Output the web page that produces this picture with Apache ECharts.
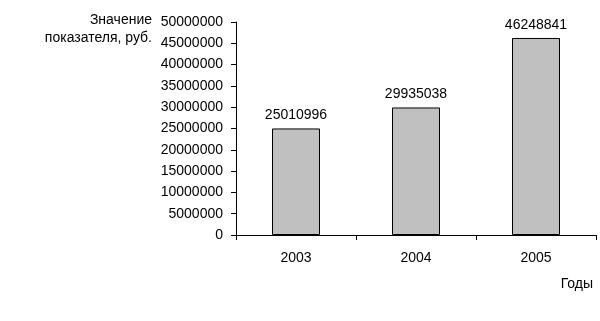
<!DOCTYPE html>
<html>
<head>
<meta charset="utf-8">
<script src="https://cdn.jsdelivr.net/npm/echarts@6/dist/echarts.min.js"></script>
<style>
  html, body { margin: 0; padding: 0; background: #fff; }
  #chart { width: 600px; height: 321px; }
</style>
</head>
<body>
<div id="chart"></div>
<script>
var years = ['2003', '2004', '2005'];
var values = [25010996, 29935038, 46248841];

var myChart = echarts.init(document.getElementById('chart'));

var font = 'Arial, "Liberation Sans", sans-serif';

var option = {
    animation: false,
    grid: { left: 236, right: 4, top: 22, bottom: 86, containLabel: false, outerBoundsMode: 'none' },
    xAxis: {
        type: 'category',
        data: years,
        name: 'Годы',
        nameLocation: 'end',
        nameGap: -3,
        nameMoveOverlap: false,
        nameTextStyle: {
            color: '#000', fontFamily: font, fontSize: 14,
            align: 'right', verticalAlign: 'top', padding: [42, 0, 0, 0]
        },
        axisLine: { lineStyle: { color: '#000', width: 1 } },
        axisTick: { show: true, length: 5, lineStyle: { color: '#000' } },
        axisLabel: { color: '#000', fontFamily: font, fontSize: 14, margin: 16 }
    },
    yAxis: {
        type: 'value',
        min: 0,
        max: 50000000,
        interval: 5000000,
        name: 'Значение\nпоказателя, руб.',
        nameLocation: 'end',
        nameGap: -7,
        nameMoveOverlap: false,
        nameTextStyle: {
            color: '#000', fontFamily: font, fontSize: 14, lineHeight: 18,
            align: 'right', verticalAlign: 'middle', padding: [0, 84, 0, 0]
        },
        axisLine: { show: true, lineStyle: { color: '#000', width: 1 } },
        axisTick: { show: true, length: 5, lineStyle: { color: '#000' } },
        axisLabel: {
            color: '#000', fontFamily: font, fontSize: 14, margin: 13,
            formatter: function (v) { return String(v); }
        },
        splitLine: { show: false }
    },
    series: [{
        type: 'bar',
        data: values,
        barWidth: '40%',
        itemStyle: { color: '#c0c0c0', borderColor: '#000', borderWidth: 1 },
        label: {
            show: true,
            position: 'top',
            distance: 6,
            color: '#000',
            fontFamily: font,
            fontSize: 14
        }
    }]
};
myChart.setOption(option);
</script>
</body>
</html>
